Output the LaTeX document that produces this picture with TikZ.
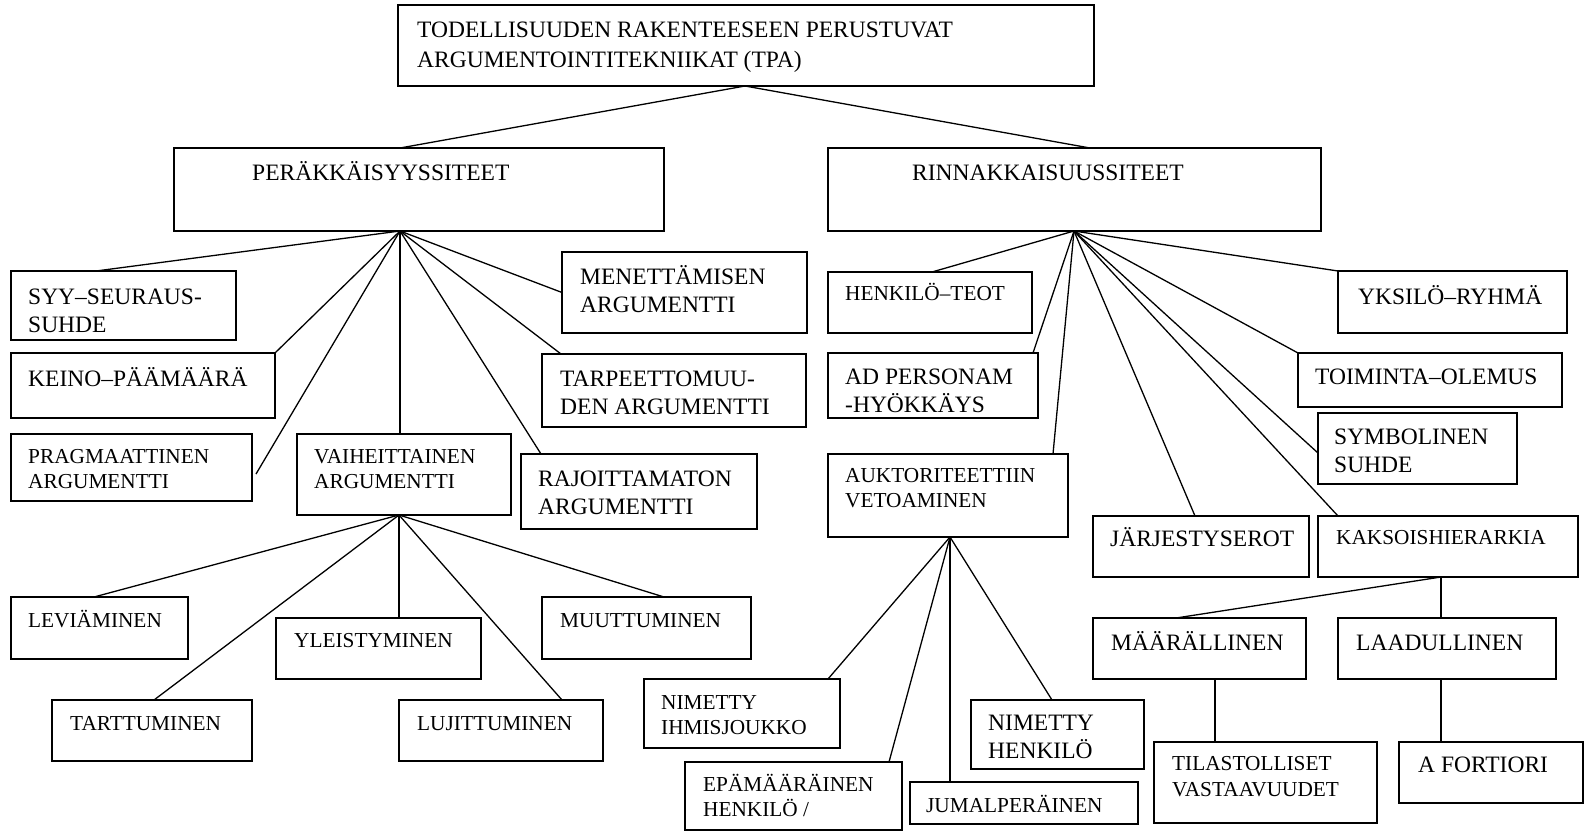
\documentclass[tikz,border=0pt]{standalone}
\usepackage{fontspec}
\setmainfont{Liberation Serif}
% boxes are placed by their corners: name, left, top, right, bottom
\newcommand\mkbox[5]{\node[box, minimum width={(#4)-(#2)}, minimum height={(#5)-(#3)}] (#1) at (#2,#3) {};}
\newcommand\lines[1]{\begin{tabular}[t]{@{}l@{}}#1\end{tabular}}
\begin{document}
\begin{tikzpicture}[x=1pt,y=-1pt,
  box/.style={draw, line width=1.6pt, inner sep=0pt, outer sep=0pt, anchor=north west},
  link/.style={line width=1.3pt},
  big/.style={anchor=base west, inner sep=0pt, font=\fontsize{23.5}{28}\selectfont},
  small/.style={anchor=base west, inner sep=0pt, font=\fontsize{21.3}{25}\selectfont}]
\useasboundingbox (0,0) rectangle (1585,833);
\fill[white] (0,0) rectangle (1585,833);

% ---- boxes ----
\mkbox{top}{398}{5}{1094}{86}
\mkbox{per}{174}{148}{664}{231}
\mkbox{rin}{828}{148}{1321}{231}
\mkbox{syy}{11}{271}{236}{340}
\mkbox{kei}{11}{353}{275}{418}
\mkbox{men}{562}{252}{807}{333}
\mkbox{tar}{542}{354}{806}{427}
\mkbox{pra}{11}{434}{252}{501}
\mkbox{vai}{297}{434}{511}{515}
\mkbox{raj}{521}{454}{757}{529}
\mkbox{lev}{11}{597}{188}{659}
\mkbox{yle}{276}{618}{481}{679}
\mkbox{muu}{542}{597}{751}{659}
\mkbox{tart}{52}{700}{252}{761}
\mkbox{luj}{399}{700}{603}{761}
\mkbox{hen}{828}{272}{1032}{333}
\mkbox{yks}{1338}{271}{1567}{333}
\mkbox{adp}{828}{353}{1038}{418}
\mkbox{toi}{1298}{353}{1562}{407}
\mkbox{sym}{1318}{413}{1517}{484}
\mkbox{auk}{828}{454}{1068}{537}
\mkbox{jar}{1093}{516}{1309}{577}
\mkbox{kak}{1318}{516}{1578}{577}
\mkbox{maa}{1093}{618}{1306}{679}
\mkbox{laa}{1338}{618}{1556}{679}
\mkbox{til}{1154}{742}{1377}{823}
\mkbox{afo}{1399}{742}{1583}{803}
\mkbox{nih}{644}{679}{840}{748}
\mkbox{epa}{685}{762}{902}{830}
\mkbox{jum}{910}{782}{1138}{824}
\mkbox{nhe}{971}{700}{1144}{769}

% ---- texts ----
\node[big] (t-top) at (417,37) {\lines{TODELLISUUDEN RAKENTEESEEN PERUSTUVAT\\[2pt]ARGUMENTOINTITEKNIIKAT (TPA)}};
\node[big] (t-per) at (252,180) {PERÄKKÄISYYSSITEET};
\node[big] (t-rin) at (912,180) {RINNAKKAISUUSSITEET};
\node[big] (t-syy) at (28,304) {\lines{SYY–SEURAUS-\\SUHDE}};
\node[big] (t-kei) at (28,386) {KEINO–PÄÄMÄÄRÄ};
\node[big] (t-men) at (580,284) {\lines{MENETTÄMISEN\\ARGUMENTTI}};
\node[big] (t-tar) at (560,386) {\lines{TARPEETTOMUU-\\DEN ARGUMENTTI}};
\node[small] (t-pra) at (28,463) {\lines{PRAGMAATTINEN\\ARGUMENTTI}};
\node[small] (t-vai) at (314,463) {\lines{VAIHEITTAINEN\\ARGUMENTTI}};
\node[big] (t-raj) at (538,486) {\lines{RAJOITTAMATON\\ARGUMENTTI}};
\node[small] (t-lev) at (28,627) {LEVIÄMINEN};
\node[small] (t-yle) at (294,647) {YLEISTYMINEN};
\node[small] (t-muu) at (560,627) {MUUTTUMINEN};
\node[small] (t-tart) at (70,730) {TARTTUMINEN};
\node[small] (t-luj) at (417,730) {LUJITTUMINEN};
\node[small] (t-hen) at (845,300) {HENKILÖ–TEOT};
\node[big] (t-yks) at (1358,304) {YKSILÖ–RYHMÄ};
\node[big] (t-adp) at (845,384) {\lines{AD PERSONAM\\-HYÖKKÄYS}};
\node[big] (t-toi) at (1315,384) {TOIMINTA–OLEMUS};
\node[big] (t-sym) at (1334,444) {\lines{SYMBOLINEN\\SUHDE}};
\node[small] (t-auk) at (845,482) {\lines{AUKTORITEETTIIN\\VETOAMINEN}};
\node[big] (t-jar) at (1110,546) {JÄRJESTYSEROT};
\node[small] (t-kak) at (1336,544) {KAKSOISHIERARKIA};
\node[big] (t-maa) at (1111,650) {MÄÄRÄLLINEN};
\node[big] (t-laa) at (1356,650) {LAADULLINEN};
\node[small] (t-til) at (1172,770) {\lines{TILASTOLLISET\\[1pt]VASTAAVUUDET}};
\node[big] (t-afo) at (1418,772) {A FORTIORI};
\node[small] (t-nih) at (661,709) {\lines{NIMETTY\\IHMISJOUKKO}};
\node[small] (t-epa) at (703,791) {\lines{EPÄMÄÄRÄINEN\\HENKILÖ /}};
\node[small] (t-jum) at (926,812) {JUMALPERÄINEN};
\node[big] (t-nhe) at (988,730) {\lines{NIMETTY\\HENKILÖ}};

% ---- branching points ----
\coordinate (tophub) at ([xshift=347pt]top.south west);
\coordinate (perhub) at ([xshift=226pt]per.south west);
\coordinate (rinhub) at ([xshift=246pt]rin.south west);
\coordinate (vaihub) at ([xshift=102pt]vai.south west);
\coordinate (aukhub) at ([xshift=122pt]auk.south west);
\coordinate (kakhub) at ([xshift=123pt]kak.south west);

% ---- connectors ----
\draw[link] (tophub) -- ([xshift=226pt]per.north west);
\draw[link] (tophub) -- ([xshift=262pt]rin.north west);

\draw[link] (perhub) -- ([xshift=85pt]syy.north west);
\draw[link] (perhub) -- (kei.north east);
\draw[link] (perhub) -- ([shift={(4,40)}]pra.north east);
\draw[link] (perhub) -- (perhub |- vai.north);
\draw[link] (perhub) -- ([xshift=20pt]raj.north west);
\draw[link] (perhub) -- ([xshift=19pt]tar.north west);
\draw[link] (perhub) -- (men.west);

\draw[link] (vaihub) -- ([xshift=83pt]lev.north west);
\draw[link] (vaihub) -- ([xshift=102pt]tart.north west);
\draw[link] (vaihub) -- (vaihub |- yle.north);
\draw[link] (vaihub) -- ([xshift=163pt]luj.north west);
\draw[link] (vaihub) -- ([xshift=122pt]muu.north west);

\draw[link] (rinhub) -- ([xshift=104pt]hen.north west);
\draw[link] (rinhub) -- ([xshift=205pt]adp.north west);
\draw[link] (rinhub) -- ([xshift=225pt]auk.north west);
\draw[link] (rinhub) -- ([xshift=102pt]jar.north west);
\draw[link] (rinhub) -- ([xshift=20pt]kak.north west);
\draw[link] (rinhub) -- ([shift={(0,40)}]sym.north west);
\draw[link] (rinhub) -- (toi.north west);
\draw[link] (rinhub) -- (yks.north west);

\draw[link] (aukhub) -- ([xshift=184pt]nih.north west);
\draw[link] (aukhub) -- ([xshift=204pt]epa.north west);
\draw[link] (aukhub) -- (aukhub |- jum.north);
\draw[link] (aukhub) -- ([xshift=81pt]nhe.north west);

\draw[link] (kakhub) -- ([xshift=83pt]maa.north west);
\draw[link] (kakhub) -- (kakhub |- laa.north);
\draw[link] ([xshift=122pt]maa.south west) -- ([xshift=122pt]maa.south west |- til.north);
\draw[link] (kakhub |- laa.south) -- (kakhub |- afo.north);
\end{tikzpicture}
\end{document}
